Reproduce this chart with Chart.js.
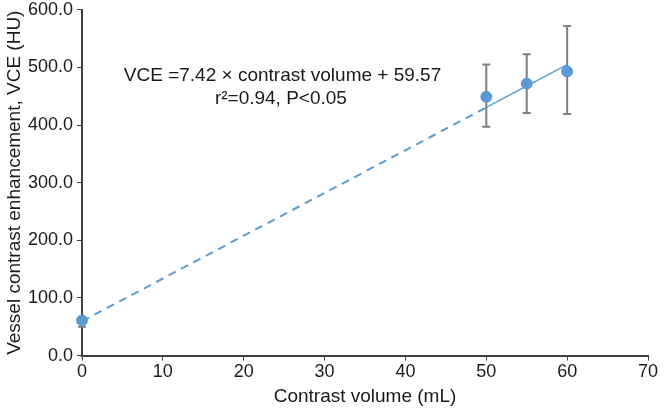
<!DOCTYPE html>
<html>
<head>
<meta charset="utf-8">
<script src="https://cdn.jsdelivr.net/npm/chart.js@4"></script>
<style>
  html, body { margin: 0; padding: 0; background: #fff; overflow: hidden; }
  #wrap { width: 664px; height: 414px; margin-top: -5px; }
</style>
</head>
<body>
<div id="wrap"><canvas id="vceChart"></canvas></div>
<script>
// data
const volumes = [0, 50, 55, 60];
const vceMeans = [61, 449, 472, 493];
const errLow = [50, 397, 421, 419];
const errHigh = [66, 505, 523, 572];
const slope = 7.42;
const intercept = 59.57;
const dashedX = [0, 50];
const solidX = [50, 60];
const xTicks = [0, 10, 20, 30, 40, 50, 60, 70];
const yTicks = [0, 100, 200, 300, 400, 500, 600];

const blue = '#5b9bd5';
const axisColor = '#404040';
const family = 'Liberation Sans, Arial, Helvetica, sans-serif';
const tickFont = { family: family, size: 18 };
const titleFont = { family: family, size: 19 };

const fitPoints = xs => xs.map(x => ({ x: x, y: slope * x + intercept }));

// error bars behind the points
const errorBars = {
    id: 'errorBars',
    beforeDatasetsDraw(chart) {
        const ctx = chart.ctx;
        const xs = chart.scales.x, ys = chart.scales.y;
        ctx.save();
        ctx.strokeStyle = '#7f7f7f';
        ctx.lineWidth = 2;
        volumes.forEach((v, i) => {
            const px = xs.getPixelForValue(v);
            const top = ys.getPixelForValue(errHigh[i]);
            const bot = ys.getPixelForValue(errLow[i]);
            ctx.beginPath();
            ctx.moveTo(px, top); ctx.lineTo(px, bot);
            ctx.moveTo(px - 4, top); ctx.lineTo(px + 4, top);
            ctx.moveTo(px - 4, bot); ctx.lineTo(px + 4, bot);
            ctx.stroke();
        });
        ctx.restore();
    }
};

// regression equation text
const equationText = {
    id: 'equationText',
    afterDraw(chart) {
        const ctx = chart.ctx;
        const xs = chart.scales.x, ys = chart.scales.y;
        ctx.save();
        ctx.fillStyle = '#1a1a1a';
        ctx.font = '19px ' + family;
        ctx.textAlign = 'center';
        ctx.textBaseline = 'middle';
        ctx.fillText('VCE =7.42 \u00d7 contrast volume + 59.57', xs.getPixelForValue(24.8), ys.getPixelForValue(485));
        ctx.fillText('r\u00b2=0.94, P<0.05', xs.getPixelForValue(24.6), ys.getPixelForValue(445));
        ctx.restore();
    }
};

new Chart(document.getElementById('vceChart'), {
    type: 'scatter',
    data: {
        datasets: [
            {
                label: 'Fit (extrapolated)',
                data: fitPoints(dashedX),
                showLine: true,
                borderColor: blue,
                borderWidth: 2,
                borderDash: [8, 6],
                pointRadius: 0
            },
            {
                label: 'Fit',
                data: fitPoints(solidX),
                showLine: true,
                borderColor: blue,
                borderWidth: 1.5,
                pointRadius: 0
            },
            {
                label: 'VCE',
                data: volumes.map((v, i) => ({ x: v, y: vceMeans[i] })),
                backgroundColor: blue,
                borderColor: blue,
                pointRadius: 5.5,
                clip: false
            }
        ]
    },
    options: {
        responsive: true,
        maintainAspectRatio: false,
        animation: false,
        layout: { padding: { top: 0, right: 16, bottom: 0, left: 0 } },
        plugins: {
            legend: { display: false },
            tooltip: { enabled: false }
        },
        scales: {
            x: {
                type: 'linear',
                min: 0,
                max: 70,
                afterBuildTicks: axis => { axis.ticks = xTicks.map(v => ({ value: v })); },
                grid: { drawOnChartArea: false, color: axisColor, tickLength: 5 },
                border: { color: axisColor, width: 2 },
                ticks: { color: '#1a1a1a', font: tickFont, padding: 1 },
                title: { display: true, text: 'Contrast volume (mL)', color: '#1a1a1a', font: titleFont, padding: 1 }
            },
            y: {
                min: 0,
                max: 600,
                afterBuildTicks: axis => { axis.ticks = yTicks.map(v => ({ value: v })); },
                afterFit: axis => { axis.width = 82; },
                grid: { drawOnChartArea: false, color: axisColor, tickLength: 5 },
                border: { color: axisColor, width: 2 },
                ticks: { color: '#1a1a1a', font: tickFont, padding: 4, callback: v => v.toFixed(1) },
                title: { display: true, text: 'Vessel contrast enhancement, VCE (HU)', color: '#1a1a1a', font: titleFont, padding: 3 }
            }
        }
    },
    plugins: [errorBars, equationText]
});
</script>
</body>
</html>
